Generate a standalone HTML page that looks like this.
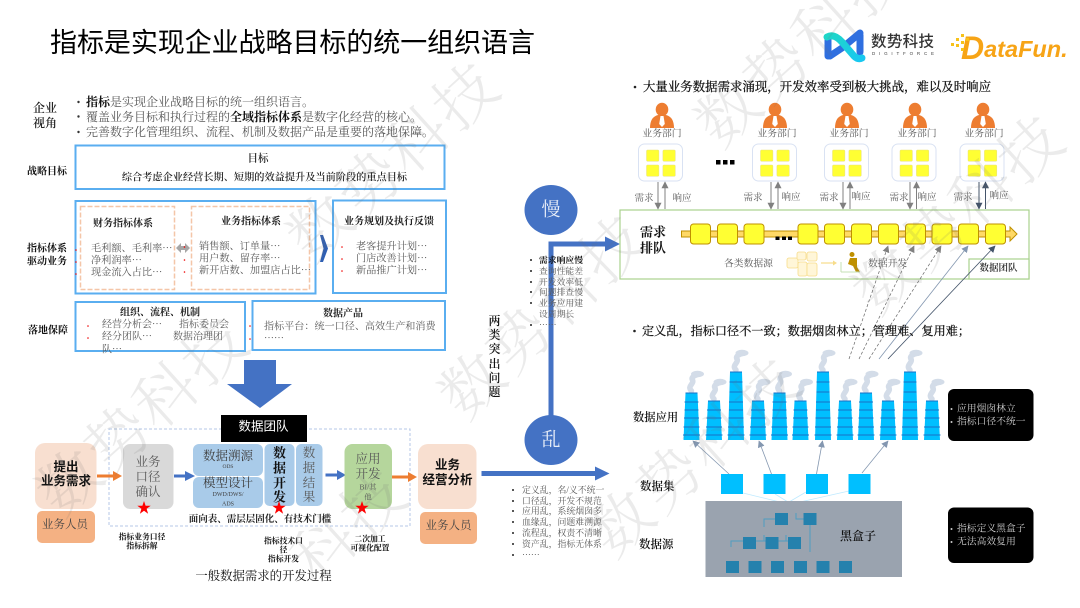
<!DOCTYPE html>
<html><head><meta charset="utf-8">
<style>
html,body{margin:0;padding:0;background:#fff;width:1080px;height:608px;overflow:hidden}
svg{display:block;filter:blur(.3px)}
text{dominant-baseline:central;font-family:"Liberation Serif","Noto Serif CJK SC",serif;fill:#595959}
.s{font-family:"Liberation Sans","Noto Sans CJK SC",sans-serif;fill:#000}
.k{fill:#111;font-weight:700}
.m{text-anchor:middle}
.wm{font-family:"Noto Serif CJK SC",serif;font-size:62px;font-weight:300;letter-spacing:3px;fill:rgba(110,110,110,.14);dominant-baseline:auto}
</style></head><body>
<svg width="1080" height="608" viewBox="0 0 1080 608" xmlns="http://www.w3.org/2000/svg">
<defs>
<g id="star"><polygon fill="#f00" points="0,-7 1.6,-2.2 6.7,-2.2 2.6,0.8 4.1,5.7 0,2.7 -4.1,5.7 -2.6,0.8 -6.7,-2.2 -1.6,-2.2"/></g>
<g id="person"><ellipse cx="0" cy="109.5" rx="6.3" ry="6.8" fill="#ed7d31"/><path d="M-12,128 Q-12,117 -4,115 L4,115 Q12,117 12,128 Z" fill="#ed7d31"/><polygon points="-1.5,116 1.5,116 2.8,124 0,127 -2.8,124" fill="#fff"/></g>
<g id="grid"><rect x="0" y="144" width="44" height="37" rx="6" fill="#fff" stroke="#d9e2f3" stroke-width="1"/>
<rect x="8" y="150" width="12.4" height="11.3" rx="1" fill="#ffff33" stroke="#e8e080" stroke-width=".5"/><rect x="24.4" y="150" width="12.4" height="11.3" rx="1" fill="#ffff33" stroke="#e8e080" stroke-width=".5"/><rect x="8" y="165" width="12.4" height="11.3" rx="1" fill="#ffff33" stroke="#e8e080" stroke-width=".5"/><rect x="24.4" y="165" width="12.4" height="11.3" rx="1" fill="#ffff33" stroke="#e8e080" stroke-width=".5"/></g>
<rect id="q" x="0" y="224" width="20" height="20" rx="3" fill="#ffff33" stroke="#bf9000" stroke-width="1"/>
<g id="smoke"><path d="M0,-2 C-5,-7 3,-9 1,-13 C-1,-16 4,-18 8,-19" fill="none" stroke="#d3dce8" stroke-width="5.500" stroke-linecap="round"/><ellipse cx="6" cy="-19" rx="6.500" ry="3.200" fill="#d3dce8"/></g>
<g id="cs"><use href="#smoke" transform="translate(0,401)"/><polygon points="-6,401 6,401 8,440 -8,440" fill="#00bfff"/><path d="M-6,401H6M-7,410H7M-7.500,418H7.500M-8,427H8M-8.500,435H8.500" stroke="#1a6fc4" stroke-width="1"/></g>
<g id="cm"><use href="#smoke" transform="translate(0,393)"/><polygon points="-6,393 6,393 8,440 -8,440" fill="#00bfff"/><path d="M-6,393H6M-7,402H7M-7,410H7M-7.500,418H7.500M-8,427H8M-8.500,435H8.500" stroke="#1a6fc4" stroke-width="1"/></g>
<g id="ct"><use href="#smoke" transform="translate(0,372)"/><polygon points="-6,372 6,372 8,440 -8,440" fill="#00bfff"/><path d="M-6,372H6M-6.500,382H6.500M-6.500,392H6.500M-7,402H7M-7,410H7M-7.500,418H7.500M-8,427H8M-8.500,435H8.500" stroke="#1a6fc4" stroke-width="1"/></g>
<rect id="b" width="13" height="12" fill="#2581ad"/>
<marker id="ag" viewBox="0 0 10 10" refX="9" refY="5" markerWidth="7" markerHeight="7" markerUnits="userSpaceOnUse" orient="auto"><path d="M0,0L10,5L0,10Z" fill="#808080"/></marker>
<marker id="ad" viewBox="0 0 10 10" refX="9" refY="5" markerWidth="7" markerHeight="7" markerUnits="userSpaceOnUse" orient="auto"><path d="M0,0L10,5L0,10Z" fill="#44546a"/></marker>
<marker id="ab" viewBox="0 0 10 10" refX="9" refY="5" markerWidth="7" markerHeight="7" markerUnits="userSpaceOnUse" orient="auto"><path d="M0,0L10,5L0,10Z" fill="#8497b0"/></marker>
<linearGradient id="lg1" x1="0" y1="0" x2="1" y2="1"><stop offset="0" stop-color="#1fd6c8"/><stop offset="1" stop-color="#18c8f0"/></linearGradient>
</defs>

<!-- title -->
<text class="s" x="50" y="43" font-size="27" textLength="485">指标是实现企业战略目标的统一组织语言</text>

<!-- logos -->
<path d="M828,38 L828,56" stroke="#2f6fe0" stroke-width="7" stroke-linecap="round"/>
<path d="M860,35 L860,52 M860,33 L842,48 L830,56" stroke="#2f6fe0" stroke-width="7" stroke-linecap="round" fill="none"/>
<path d="M827,37 Q834,33 842,42 L854,56 Q858,60 862,58" stroke="url(#lg1)" stroke-width="7" stroke-linecap="round" fill="none"/>
<text class="s" x="871" y="42" font-size="15.5" textLength="63" style="fill:#333;font-weight:500">数势科技</text>
<text class="s" x="872" y="53.5" font-size="4.5" textLength="62" style="fill:#444">DIGITFORCE</text>
<text x="961" y="48" style="font-family:'Liberation Sans',sans-serif;font-weight:700;font-style:italic;fill:#f7a416"><tspan font-size="32">D</tspan><tspan font-size="23.500" dy="1">ataFun.</tspan></text>
<path d="M951,43h3v3h-3zM956,38h3v3h-3zM961,34h3v3h-3zM956,44h3v3h-3zM961,41h3v3h-3zM966,38h3v3h-3zM961,48h3v3h-3z" fill="#f7c21a"/>

<!-- intro -->
<text x="33" y="108" font-size="12" style="fill:#222;font-weight:600">企业</text>
<text x="33" y="123" font-size="12" style="fill:#222;font-weight:600">视角</text>
<circle cx="78.500" cy="102" r="1.2" fill="#333"/><circle cx="78.500" cy="116.500" r="1.2" fill="#333"/><circle cx="78.500" cy="132" r="1.2" fill="#333"/>
<text x="86" y="102" font-size="12"><tspan style="fill:#111;font-weight:700">指标</tspan>是实现企业战略目标的统一组织语言。</text>
<text x="86" y="117" font-size="12">覆盖业务目标和执行过程的<tspan style="fill:#111;font-weight:700">全域指标体系</tspan>是数字化经营的核心。</text>
<text x="86" y="132" font-size="12">完善数字化管理组织、流程、机制及数据产品是重要的落地保障。</text>

<!-- strategy -->
<rect x="75.500" y="145.500" width="369" height="43.500" fill="none" stroke="#5aaef0" stroke-width="2"/>
<text class="k" x="27" y="172" font-size="10">战略目标</text>
<text class="m" x="258" y="159" font-size="10.500" style="fill:#222;font-weight:600">目标</text>
<text class="m" x="264.500" y="178" font-size="10.200" style="fill:#222;font-weight:600">综合考虑企业经营长期、短期的效益提升及当前阶段的重点目标</text>

<!-- system -->
<rect x="75.500" y="201" width="240" height="92.500" fill="none" stroke="#5aaef0" stroke-width="2"/>
<rect x="333" y="200.500" width="113" height="92.500" fill="none" stroke="#5aaef0" stroke-width="2"/>
<rect x="80.500" y="206.500" width="94" height="83" fill="none" stroke="#f4c6a8" stroke-width="1.500" stroke-dasharray="5 2"/>
<rect x="191.500" y="206.500" width="118" height="83" fill="none" stroke="#f4c6a8" stroke-width="1.500" stroke-dasharray="5 2"/>
<text class="k" x="27" y="249" font-size="10">指标体系</text>
<text class="k" x="27" y="262" font-size="10">驱动业务</text>
<text class="m k" x="123" y="224" font-size="10" style="fill:#222">财务指标体系</text>
<text x="91" y="249" font-size="10.200">毛利额、毛利率⋯</text>
<text x="91" y="261" font-size="10.200">净利润率⋯</text>
<text x="91" y="273" font-size="10.200">现金流入占比⋯</text>
<text class="m k" x="251" y="222" font-size="10" style="fill:#222">业务指标体系</text>
<text x="199" y="247" font-size="10.200">销售额、订单量⋯</text>
<text x="199" y="259" font-size="10.200">用户数、留存率⋯</text>
<text x="199" y="271" font-size="10.200">新开店数、加盟店占比⋯</text>
<text class="m k" x="389" y="222" font-size="10" style="fill:#222">业务规划及执行反馈</text>
<text x="356" y="247" font-size="10.200">老客提升计划⋯</text>
<text x="356" y="259" font-size="10.200">门店改善计划⋯</text>
<text x="356" y="271" font-size="10.200">新品推广计划⋯</text>
<polygon points="176,248 181,243 181,246 185,246 185,243 190,248 185,253 185,250 181,250 181,253" fill="#a6a6a6"/>
<polygon points="320,235 323,235 328,248.500 323,262 320,262 323.500,248.500" fill="#2f5fb3"/>
<g fill="#e00"><circle cx="76" cy="250" r=".8"/><circle cx="76" cy="262" r=".8"/><circle cx="76" cy="274" r=".8"/><circle cx="184.500" cy="247" r=".8"/><circle cx="184.500" cy="260" r=".8"/><circle cx="184.500" cy="272" r=".8"/><circle cx="342" cy="247" r=".8"/><circle cx="342" cy="259" r=".8"/><circle cx="342" cy="271" r=".8"/><circle cx="88" cy="326" r=".8"/><circle cx="88" cy="338" r=".8"/><circle cx="250" cy="326" r=".8"/><circle cx="250" cy="339" r=".8"/></g>

<!-- landing -->
<rect x="75.500" y="302" width="169.500" height="49" fill="none" stroke="#5aaef0" stroke-width="2"/>
<rect x="252.500" y="301" width="192.500" height="49" fill="none" stroke="#5aaef0" stroke-width="2"/>
<text class="k" x="28" y="331" font-size="10">落地保障</text>
<text class="m k" x="160" y="313" font-size="10" style="fill:#222">组织、流程、机制</text>
<text x="102" y="325" font-size="10">经营分析会⋯</text><text x="179" y="325" font-size="10">指标委员会</text>
<text x="102" y="337" font-size="10">经分团队⋯</text><text x="173" y="337" font-size="10">数据治理团</text>
<text x="102" y="350" font-size="10">队⋯</text>
<text class="m k" x="343" y="314" font-size="10" style="fill:#222">数据产品</text>
<text x="264" y="327" font-size="10.100">指标平台：统一口径、高效生产和消费</text>
<text x="264" y="339" font-size="10">⋯⋯</text>

<!-- big arrow -->
<polygon points="244,360 276,360 276,384 292,384 260,408 227,384 244,384" fill="#4472c4"/>

<!-- process -->
<rect x="109" y="429" width="301" height="97" fill="none" stroke="#b4c7e7" stroke-width="1" stroke-dasharray="3 2"/>
<rect x="221" y="415" width="86" height="27" fill="#000"/>
<text class="m s" x="263.500" y="426.500" font-size="12.500" style="fill:#fff">数据团队</text>

<rect x="35" y="443" width="61.500" height="66" rx="10" fill="#f8dfd0"/>
<text class="m s" x="66" y="467" font-size="12.500" style="font-weight:700;fill:#111">提出</text>
<text class="m s" x="66" y="481" font-size="12.500" style="font-weight:700;fill:#111">业务需求</text>
<rect x="37" y="511" width="58" height="32" rx="5" fill="#f4b183"/>
<text class="m" x="65" y="525" font-size="11.500" style="fill:#444">业务人员</text>
<polygon points="97,474.500 113,474.500 113,471 122,476 113,481 113,477.500 97,477.500" fill="#ed7d31"/>

<rect x="123" y="444" width="50.500" height="65" rx="7" fill="#d9d9d9"/>
<text class="m" x="148" y="462" font-size="12.500">业务</text><text class="m" x="148" y="477" font-size="12.500">口径</text><text class="m" x="148" y="492" font-size="12.500">确认</text>
<use href="#star" x="144" y="508"/>
<polygon points="174,474.500 185,474.500 185,471 195,476 185,481 185,477.500 174,477.500" fill="#4472c4"/>

<rect x="193" y="444" width="70" height="32" rx="6" fill="#a9cbe9"/>
<rect x="193" y="477" width="70" height="31" rx="6" fill="#a9cbe9"/>
<text class="m" x="228" y="456" font-size="12.500" style="fill:#404040">数据溯源</text>
<text class="m" x="228" y="467" font-size="5.500" style="fill:#404040">ODS</text>
<text class="m" x="228" y="483" font-size="12.500" style="fill:#404040">模型设计</text>
<text class="m" x="228" y="495" font-size="6" style="fill:#404040">DWD/DWS/</text>
<text class="m" x="228" y="504.500" font-size="6" style="fill:#404040">ADS</text>
<rect x="264.500" y="444" width="30" height="62" rx="5" fill="#a9cbe9"/>
<rect x="296" y="444" width="26.500" height="62" rx="5" fill="#a9cbe9"/>
<text class="m" x="279.500" y="453" font-size="13" style="fill:#111;font-weight:700">数</text><text class="m" x="279.500" y="468" font-size="13" style="fill:#111;font-weight:700">据</text><text class="m" x="279.500" y="483" font-size="13" style="fill:#111;font-weight:700">开</text><text class="m" x="279.500" y="497" font-size="13" style="fill:#111;font-weight:700">发</text>
<text class="m" x="309" y="453" font-size="12.500">数</text><text class="m" x="309" y="468" font-size="12.500">据</text><text class="m" x="309" y="483" font-size="12.500">结</text><text class="m" x="309" y="497" font-size="12.500">果</text>
<use href="#star" x="279" y="508"/>
<polygon points="325.500,473.500 337,473.500 337,470 346,475 337,480 337,476.500 325.500,476.500" fill="#4472c4"/>

<rect x="344.500" y="444" width="47.500" height="65" rx="8" fill="#b5d69c"/>
<text class="m" x="368" y="459" font-size="12.500">应用</text><text class="m" x="368" y="474" font-size="12.500">开发</text>
<text class="m" x="368" y="487" font-size="7.500">BI/其</text><text class="m" x="368" y="497" font-size="7.500">他</text>
<use href="#star" x="362" y="508"/>
<polygon points="392,475.500 408,475.500 408,472 417,477 408,482 408,478.500 392,478.500" fill="#ed7d31"/>

<rect x="418" y="444" width="58.500" height="65" rx="10" fill="#f8dfd0"/>
<text class="m s" x="447.500" y="465" font-size="12.500" style="font-weight:700;fill:#111">业务</text>
<text class="m s" x="447.500" y="480" font-size="12.500" style="font-weight:700;fill:#111">经营分析</text>
<rect x="420" y="512" width="57" height="32" rx="5" fill="#f4b183"/>
<text class="m" x="448.500" y="526" font-size="11.500" style="fill:#444">业务人员</text>

<text class="m k" x="260" y="520" font-size="9.500" style="fill:#222">面向表、需层层固化、有技术门槛</text>
<text class="m k" x="142" y="537" font-size="7.800">指标业务口径</text><text class="m k" x="142" y="546" font-size="7.800">指标拆解</text>
<text class="m k" x="283.500" y="541" font-size="7.800">指标技术口</text><text class="m k" x="283.500" y="550" font-size="7.800">径</text><text class="m k" x="283.500" y="559" font-size="7.800">指标开发</text>
<text class="m k" x="370" y="539" font-size="7.800">二次加工</text><text class="m k" x="370" y="548" font-size="7.800">可视化配置</text>
<text class="m" x="263.500" y="576" font-size="12.400" style="fill:#111">一般数据需求的开发过程</text>

<!-- centre flow -->
<rect x="548.500" y="241.500" width="5" height="200" fill="#4472c4"/>
<rect x="548.500" y="241.500" width="58" height="5" fill="#4472c4"/>
<polygon points="605,236.500 620,244 605,251.500" fill="#4472c4"/>
<rect x="481.500" y="471" width="114" height="5" fill="#4472c4"/>
<polygon points="595,466.500 609.500,473.500 595,480.500" fill="#4472c4"/>
<ellipse cx="551" cy="210" rx="26.500" ry="25" fill="#4472c4"/>
<text class="m" x="551" y="210" font-size="19" style="fill:#e8eef8">慢</text>
<ellipse cx="551" cy="440" rx="26.500" ry="25" fill="#4472c4"/>
<text class="m" x="551" y="440" font-size="19" style="fill:#e8eef8">乱</text>
<text class="m" x="494.500" y="321" font-size="12" style="fill:#111;font-weight:600">两</text><text class="m" x="494.500" y="335" font-size="12" style="fill:#111;font-weight:600">类</text><text class="m" x="494.500" y="349" font-size="12" style="fill:#111;font-weight:600">突</text><text class="m" x="494.500" y="364" font-size="12" style="fill:#111;font-weight:600">出</text><text class="m" x="494.500" y="378" font-size="12" style="fill:#111;font-weight:600">问</text><text class="m" x="494.500" y="392" font-size="12" style="fill:#111;font-weight:600">题</text>
<g fill="#222"><circle cx="531" cy="260" r="1"/><circle cx="531" cy="271" r="1"/><circle cx="531" cy="282" r="1"/><circle cx="531" cy="292" r="1"/><circle cx="531" cy="303" r="1"/><circle cx="531" cy="325" r="1"/>
<circle cx="513" cy="490" r="1"/><circle cx="513" cy="501" r="1"/><circle cx="513" cy="511" r="1"/><circle cx="513" cy="522" r="1"/><circle cx="513" cy="533" r="1"/><circle cx="513" cy="544" r="1"/><circle cx="513" cy="555" r="1"/></g>
<text x="539" y="260" font-size="8.800" style="fill:#111;font-weight:700">需求响应慢</text>
<text x="539" y="271" font-size="8.800">查询性能差</text>
<text x="539" y="282" font-size="8.800">开发效率低</text>
<text x="539" y="292" font-size="8.800">问题排查慢</text>
<text x="539" y="303" font-size="8.800">业务应用建</text>
<text x="539" y="314" font-size="8.800">设周期长</text>
<text x="539" y="325" font-size="8.800">⋯⋯</text>
<text x="522" y="490" font-size="8.900">定义乱，名/义不统一</text>
<text x="522" y="501" font-size="8.900">口径乱，开发不规范</text>
<text x="522" y="511" font-size="8.900">应用乱，系统烟囱多</text>
<text x="522" y="522" font-size="8.900">血缘乱，问题难溯源</text>
<text x="522" y="533" font-size="8.900">流程乱，权责不清晰</text>
<text x="522" y="544" font-size="8.900">资产乱，指标无体系</text>
<text x="522" y="555" font-size="8.900">⋯⋯</text>

<!-- right top -->
<circle cx="635" cy="87" r="1.300" fill="#222"/>
<text x="643" y="87" font-size="12.400" style="fill:#111;stroke:#111;stroke-width:.25" textLength="348">大量业务数据需求涌现，开发效率受到极大挑战，难以及时响应</text>
<use href="#person" x="662"/><use href="#person" x="775"/><use href="#person" x="847"/><use href="#person" x="915"/><use href="#person" x="983"/>
<text class="m" x="662" y="134" font-size="9.800">业务部门</text><text class="m" x="777" y="134" font-size="9.800">业务部门</text><text class="m" x="849" y="134" font-size="9.800">业务部门</text><text class="m" x="917" y="134" font-size="9.800">业务部门</text><text class="m" x="984" y="134" font-size="9.800">业务部门</text>
<use href="#grid" x="638.500"/><use href="#grid" x="752.500"/><use href="#grid" x="824.500"/><use href="#grid" x="892"/><use href="#grid" x="960"/>
<path d="M716,160h4.500v4.500h-4.500zM723,160h4.500v4.500h-4.500zM730,160h4.500v4.500h-4.500z" fill="#000"/>
<g fill="none" stroke="#808080" stroke-width="1">
<path d="M658,182V209" marker-end="url(#ag)"/><path d="M665,209V182" marker-end="url(#ag)"/>
<path d="M771,182V209" marker-end="url(#ag)"/><path d="M778,209V182" marker-end="url(#ag)"/>
<path d="M843,182V209" marker-end="url(#ag)"/><path d="M850,209V182" marker-end="url(#ag)"/>
<path d="M910,182V209" marker-end="url(#ag)"/><path d="M916.500,209V182" marker-end="url(#ag)"/>
</g>
<g fill="none" stroke="#44546a" stroke-width="1"><path d="M979,182V209" marker-end="url(#ad)"/><path d="M985.500,209V182" marker-end="url(#ad)"/></g>
<text class="m" x="644" y="199" font-size="9.500">需求</text><text class="m" x="682" y="199" font-size="9.500">响应</text>
<text class="m" x="753" y="198.500" font-size="9.500">需求</text><text class="m" x="791" y="198" font-size="9.500">响应</text>
<text class="m" x="829" y="198.500" font-size="9.500">需求</text><text class="m" x="861" y="197.500" font-size="9.500">响应</text>
<text class="m" x="899" y="198.500" font-size="9.500">需求</text><text class="m" x="927" y="198" font-size="9.500">响应</text>
<text class="m" x="963" y="198" font-size="9.500">需求</text><text class="m" x="999" y="196.500" font-size="9.500">响应</text>

<rect x="620" y="210" width="409" height="69" fill="#fff" stroke="#a9d18e" stroke-width="1.200"/>
<text class="m" x="653" y="232" font-size="13" style="fill:#111;font-weight:700">需求</text>
<text class="m" x="653" y="248" font-size="13" style="fill:#111;font-weight:700">排队</text>
<polygon points="681.500,231 1010,231 1010,227 1017,234 1010,241 1010,237 681.500,237" fill="#ffd966" stroke="#bf9000" stroke-width="1"/>
<use href="#q" x="690.500"/><use href="#q" x="717.500"/><use href="#q" x="744"/><use href="#q" x="798"/><use href="#q" x="824.500"/><use href="#q" x="851.500"/><use href="#q" x="878.500"/><use href="#q" x="905.500"/><use href="#q" x="932"/><use href="#q" x="958.500"/><use href="#q" x="985.500"/>
<path d="M775.500,236.500h4v3.500h-4zM782,236.500h4v3.500h-4zM788,236.500h4v3.500h-4z" fill="#000"/>
<text x="724" y="264" font-size="9.800">各类数据源</text>
<g fill="#fff6d8" stroke="#f7dc8a" stroke-width=".8"><rect x="787" y="258" width="11" height="10" rx="2"/><rect x="797" y="252" width="9" height="8" rx="2"/><rect x="807" y="252" width="10" height="9" rx="2"/><rect x="798" y="262" width="9" height="14" rx="2"/><rect x="807" y="263" width="10" height="13" rx="2"/></g>
<path d="M821,263H835" stroke="#f7dc8a" stroke-width="1.200"/><path d="M833,260.500L837,263L833,265.500Z" fill="#f7dc8a"/>
<circle cx="852" cy="254.500" r="2.500" fill="#bf9000"/><path d="M850,258 L857,258 L857,267 L860,272 L856,272 L853,266 L848,264 Z" fill="#bf9000"/><path d="M841,272 L841,262 M841,272H860" stroke="#c6e0b4" stroke-width="1" fill="none"/>
<text x="868" y="264" font-size="9.800">数据开发</text>
<rect x="969" y="259" width="60" height="20" fill="#fff" stroke="#a9d18e" stroke-width="1.200"/>
<text class="m" x="998.500" y="269" font-size="9.500" style="fill:#222;font-weight:600">数据团队</text>
<g fill="none" stroke="#666" stroke-width=".7" stroke-dasharray="3 2"><path d="M849,359L888,246" marker-end="url(#ag)"/><path d="M859,359L914,246" marker-end="url(#ag)"/><path d="M869,359L941,246" marker-end="url(#ag)"/></g>
<path d="M879,359L968,246" fill="none" stroke="#8497b0" stroke-width=".8" marker-end="url(#ab)"/>
<path d="M888,359L995,246" fill="none" stroke="#44546a" stroke-width=".8" marker-end="url(#ad)"/>

<!-- right bottom -->
<circle cx="634.500" cy="331" r="1.300" fill="#222"/>
<text x="642" y="331" font-size="12.100" style="fill:#111;stroke:#111;stroke-width:.25" textLength="328">定义乱，指标口径不一致；数据烟囱林立；管理难、复用难；</text>
<use href="#cm" x="691.500"/><use href="#cs" x="714"/><use href="#ct" x="736"/><use href="#cs" x="758"/><use href="#cm" x="779.500"/><use href="#cs" x="800.500"/><use href="#ct" x="823"/><use href="#cs" x="845"/><use href="#cm" x="866"/><use href="#cs" x="888"/><use href="#ct" x="910"/><use href="#cs" x="932"/>
<text x="633" y="418" font-size="11.300" style="fill:#111;font-weight:600">数据应用</text>
<text x="640" y="487" font-size="11.500" style="fill:#111;font-weight:600">数据集</text>
<text x="639" y="545" font-size="11.500" style="fill:#111;font-weight:600">数据源</text>
<g fill="none" stroke="#8497b0" stroke-width=".8"><path d="M729,474L693,441" marker-end="url(#ab)"/><path d="M771.500,474L759,441" marker-end="url(#ab)"/><path d="M816.500,474L822.500,441" marker-end="url(#ab)"/><path d="M862,473L888,441" marker-end="url(#ab)"/></g>
<g fill="none" stroke="#bfeaff" stroke-width=".8"><path d="M743,493L780,502"/><path d="M775,494L788,502"/><path d="M806,492L789,502"/><path d="M849,491L800,502"/></g>
<g fill="#00bfff"><rect x="721" y="474" width="22" height="20"/><rect x="763.500" y="474" width="22" height="20"/><rect x="806" y="474" width="22" height="20"/><rect x="848.500" y="474" width="22" height="20"/></g>
<rect x="705.500" y="501" width="196.500" height="76" fill="#9aa3af"/>
<g fill="none" stroke="#4f9dc2" stroke-width="1"><path d="M776,519H764V527M804,519H796V513M810,520V552M744,541H731V547M745,541H790M764,541V535M786,541V535"/></g>
<use href="#b" x="775" y="513"/><use href="#b" x="803.500" y="513"/><use href="#b" x="743" y="537"/><use href="#b" x="765.500" y="537"/><use href="#b" x="788" y="537"/>
<use href="#b" x="726" y="561"/><use href="#b" x="748.500" y="561"/><use href="#b" x="771" y="561"/><use href="#b" x="794" y="561"/><use href="#b" x="816.500" y="561"/><use href="#b" x="839" y="561"/>
<text class="m" x="858" y="536" font-size="12" style="fill:#111;font-weight:600">黑盒子</text>

<rect x="948" y="389" width="85.500" height="52" rx="6" fill="#000"/>
<circle cx="951.500" cy="409" r="1" fill="#ccc"/><circle cx="951.500" cy="422" r="1" fill="#ccc"/>
<text x="957" y="409" font-size="9.800" style="fill:#cfcfcf">应用烟囱林立</text>
<text x="957" y="422" font-size="9.800" style="fill:#cfcfcf">指标口径不统一</text>
<rect x="948" y="507.500" width="85.500" height="55.500" rx="6" fill="#000"/>
<circle cx="951.500" cy="529" r="1" fill="#ccc"/><circle cx="951.500" cy="542" r="1" fill="#ccc"/>
<text x="957" y="529" font-size="9.800" style="fill:#cfcfcf">指标定义黑盒子</text>
<text x="957" y="542" font-size="9.800" style="fill:#cfcfcf">无法高效复用</text>

<!-- watermarks -->
<text class="wm" transform="translate(320,227) rotate(-42)" x="-31" y="22">数势科技</text>
<text class="wm" transform="translate(69,482) rotate(-42)" x="-31" y="22">数势科技</text>
<text class="wm" transform="translate(324,548) rotate(-42)" x="-31" y="22">科技</text>
<text class="wm" transform="translate(621,523) rotate(-42)" x="-31" y="22">数势科技</text>
<text class="wm" transform="translate(472,385) rotate(-44)" x="-31" y="22">数势科技</text>
<text class="wm" transform="translate(728,113) rotate(-42)" x="-31" y="22">数势科技</text>
<text class="wm" transform="translate(885,280) rotate(-42)" x="-31" y="22">数势科技</text>
</svg>
</body></html>
